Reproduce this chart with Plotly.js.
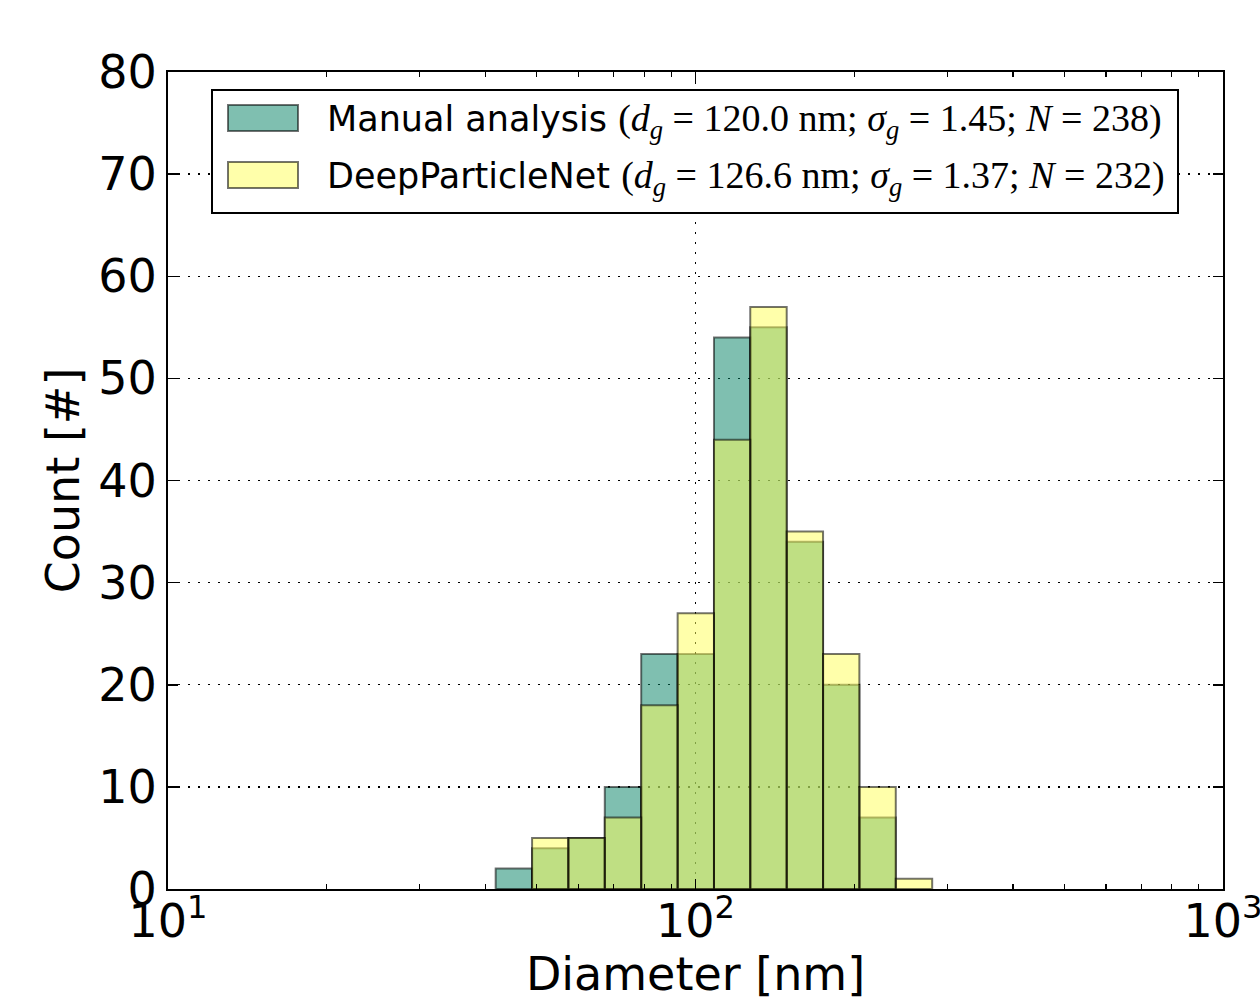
<!DOCTYPE html>
<html>
<head>
<meta charset="utf-8">
<script src="https://cdn.plot.ly/plotly-3.0.1.min.js"></script>
<style>html,body{margin:0;padding:0;background:#fff;}#chart{width:1260px;height:1001px;}</style>
</head>
<body>
<div id="chart"></div>
<script>
// Bin edges (nm), logarithmically spaced
const binEdges = [41.8, 49.0, 57.4, 67.3, 78.9, 92.5, 108.4, 127.0, 148.9, 174.5, 204.5, 239.7, 281.0];
// Counts per bin
const manualCounts = [2, 4, 5, 10, 23, 23, 54, 55, 34, 20, 7, 0];
const deepCounts   = [0, 5, 5, 7, 18, 27, 44, 57, 35, 23, 10, 1];
const seriesNames = [
  'Manual analysis',
  'DeepParticleNet'
];
const seriesStats = [
  {dg: '120.0', sg: '1.45', n: '238'},
  {dg: '126.6', sg: '1.37', n: '232'}
];
const xTickVals = [10, 100, 1000];
const xTickText = ['10<sup>1</sup>', '10<sup>2</sup>', '10<sup>3</sup>'];
const xMinorVals = [20, 30, 40, 50, 60, 70, 80, 90, 200, 300, 400, 500, 600, 700, 800, 900];
const yTickVals = [0, 10, 20, 30, 40, 50, 60, 70, 80];

const manualFill = 'rgba(0,127,97,0.5)';
const deepFill = 'rgba(255,255,85,0.5)';
const edgeColor = 'rgba(0,0,0,0.55)';

function histPolygons(edges, counts) {
  const xs = [], ys = [];
  for (let i = 0; i < counts.length; i++) {
    if (!counts[i]) continue;
    xs.push(edges[i], edges[i], edges[i+1], edges[i+1], edges[i], null);
    ys.push(0, counts[i], counts[i], 0, 0, null);
  }
  return {x: xs, y: ys};
}

const traces = [];
[[manualCounts, manualFill, 0], [deepCounts, deepFill, 1]].forEach(([counts, fill, k]) => {
  const p = histPolygons(binEdges, counts);
  traces.push({
    type: 'scatter', mode: 'lines', x: p.x, y: p.y,
    fill: 'toself', fillcolor: fill,
    line: {color: edgeColor, width: 2},
    connectgaps: false, name: seriesNames[k], showlegend: false,
    hoverinfo: 'skip'
  });
});

// plot area in pixels: x 168..1223, y 72..889
const PX0 = 168, PX1 = 1223, PY0 = 72, PY1 = 889;
const px = v => (v - PX0) / (PX1 - PX0);
const py = v => (PY1 - v) / (PY1 - PY0);

const shapes = [
  {type: 'rect', xref: 'paper', yref: 'paper', x0: px(212), x1: px(1178), y0: py(213), y1: py(90),
   fillcolor: '#ffffff', line: {color: '#000', width: 2}, layer: 'above'},
  {type: 'rect', xref: 'paper', yref: 'paper', x0: px(228), x1: px(298), y0: py(131), y1: py(105),
   fillcolor: manualFill, line: {color: edgeColor, width: 2}, layer: 'above'},
  {type: 'rect', xref: 'paper', yref: 'paper', x0: px(228), x1: px(298), y0: py(188), y1: py(162),
   fillcolor: deepFill, line: {color: edgeColor, width: 2}, layer: 'above'}
];

const serif = 'font-family:Liberation Serif';
function legendText(k) {
  const s = seriesStats[k];
  return seriesNames[k] + ' <span style="' + serif + ';font-size:38px">(<i>d</i><sub><i>g</i></sub> = ' + s.dg +
    ' nm; <i>σ</i><sub><i>g</i></sub> = ' + s.sg + '; <i>N</i> = ' + s.n + ')</span>';
}
const annotations = [
  {xref: 'paper', yref: 'paper', x: px(325), y: py(121), xanchor: 'left', yanchor: 'middle',
   text: legendText(0), showarrow: false, font: {family: 'DejaVu Sans', size: 35, color: '#000'}},
  {xref: 'paper', yref: 'paper', x: px(325), y: py(178), xanchor: 'left', yanchor: 'middle',
   text: legendText(1), showarrow: false, font: {family: 'DejaVu Sans', size: 35, color: '#000'}}
];

const axisCommon = {
  showline: true, linecolor: '#000', linewidth: 2, mirror: 'allticks',
  ticks: 'inside', ticklen: 10, tickwidth: 1.5, tickcolor: '#000',
  showgrid: true, gridcolor: '#000', gridwidth: 1.3, griddash: '2px,8px',
  zeroline: false, ticklabeloverflow: 'allow',
  tickfont: {family: 'DejaVu Sans', size: 46, color: '#000'}
};

const layout = {
  width: 1260, height: 1001,
  margin: {l: PX0, r: 1260 - PX1, t: PY0, b: 1001 - PY1},
  paper_bgcolor: '#fff', plot_bgcolor: '#fff',
  showlegend: false,
  xaxis: Object.assign({}, axisCommon, {
    type: 'log', range: [1, 3], tickmode: 'array', tickvals: xTickVals, ticktext: xTickText,
    ticklabelstandoff: -9,
    minor: {tickmode: 'array', tickvals: xMinorVals, ticks: 'inside', ticklen: 5, tickwidth: 1.2, tickcolor: '#000', showgrid: false},
    title: {text: 'Diameter [nm]', font: {family: 'DejaVu Sans', size: 46, color: '#000'}, standoff: 8},
    automargin: false
  }),
  yaxis: Object.assign({}, axisCommon, {
    range: [0, 80], tickmode: 'array', tickvals: yTickVals, ticklabelstandoff: 0,
    title: {text: 'Count [#]', font: {family: 'DejaVu Sans', size: 46, color: '#000'}, standoff: 4},
    automargin: false
  }),
  shapes: shapes,
  annotations: annotations
};

Plotly.newPlot('chart', traces, layout, {staticPlot: true, displayModeBar: false});
</script>
</body>
</html>
